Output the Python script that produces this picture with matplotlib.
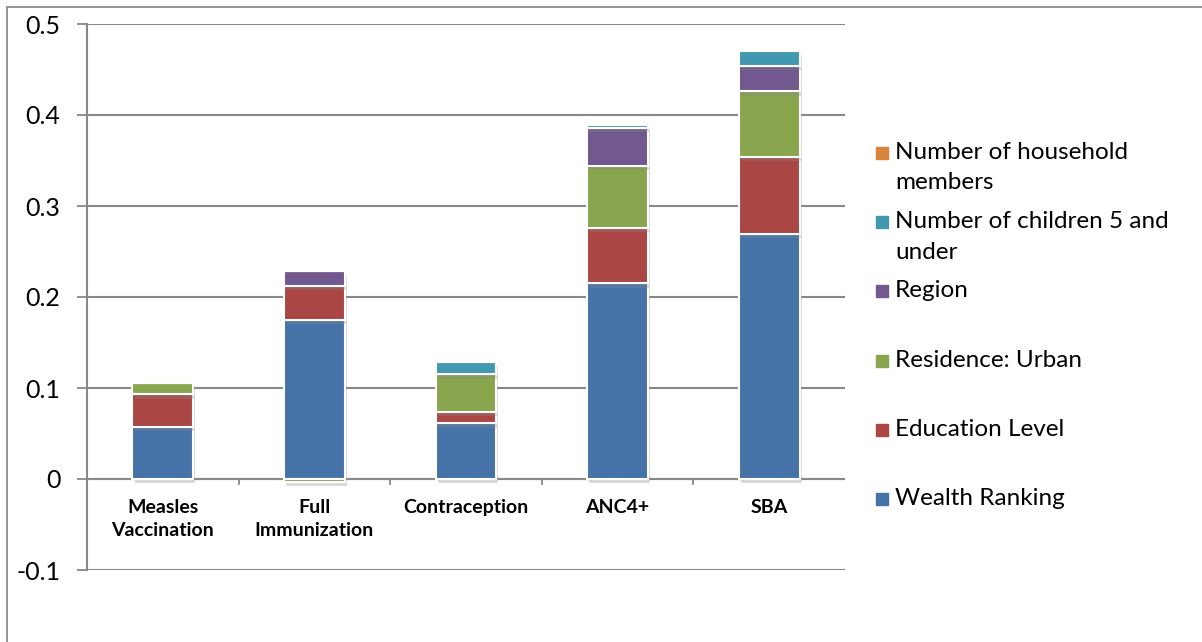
import matplotlib.pyplot as plt
import matplotlib.patheffects as pe
from matplotlib.patches import Rectangle
import numpy as np

plt.rcParams['font.family'] = ['Lato', 'DejaVu Sans']

categories = ["Measles\nVaccination", "Full\nImmunization", "Contraception", "ANC4+", "SBA"]

series_names = ["Wealth Ranking", "Education Level", "Residence: Urban", "Region",
                "Number of children 5 and\nunder", "Number of household\nmembers"]
wealth = [0.057, 0.175, 0.061, 0.215, 0.269]
education = [0.036, 0.037, 0.013, 0.061, 0.085]
residence = [0.012, -0.003, 0.041, 0.068, 0.072]
region = [0.0, 0.0165, 0.0, 0.042, 0.0275]
children = [0.0, 0.0, 0.0135, 0.003, 0.0165]
household = [0.0, 0.0, 0.0, 0.0, 0.0]

colors = ["#4572A7", "#AA4643", "#89A54E", "#71588F", "#4198AF", "#DB843D"]

fig = plt.figure(figsize=(12.02, 6.42), dpi=100)
ax = fig.add_axes([87/1202, 1-570/642, 758/1202, 546/642])

# outer chart frame
fig.patches.append(Rectangle((7/1202, -0.01), 1.2, 1-7/642+0.01, transform=fig.transFigure,
                             fill=False, edgecolor="#8c8c8c", linewidth=1.3))

x = np.arange(len(categories))
pos_base = np.zeros(len(categories))
neg_base = np.zeros(len(categories))
shadow = [pe.SimplePatchShadow(offset=(1.5, -3), shadow_rgbFace="#888888", alpha=0.3), pe.Normal()]
for vals, c in zip([wealth, education, residence, region, children, household], colors):
    vals = np.array(vals)
    bottom = np.where(vals >= 0, pos_base, neg_base)
    ax.bar(x, vals, 0.4, bottom=bottom, color=c, edgecolor="white", linewidth=1.5,
           zorder=3, path_effects=shadow)
    pos_base += np.where(vals >= 0, vals, 0)
    neg_base += np.where(vals < 0, vals, 0)

ax.set_xlim(-0.5, len(categories) - 0.5)
ax.set_ylim(-0.1, 0.5)
ax.set_yticks([-0.1, 0, 0.1, 0.2, 0.3, 0.4, 0.5])
ax.set_yticklabels(["-0.1", "0", "0.1", "0.2", "0.3", "0.4", "0.5"], fontsize=18)
ax.yaxis.grid(True, color="#888888", linewidth=1.5, zorder=0)
ax.tick_params(axis="y", length=7, width=1.3, color="#888888", pad=12)

for s in ["top", "right", "bottom"]:
    ax.spines[s].set_visible(False)
ax.spines["left"].set_color("#888888")
ax.spines["left"].set_linewidth(1.5)

# category axis runs along zero, with ticks between groups
ax.set_xticks([])
ax.axhline(0, color="#888888", linewidth=1.5, zorder=2)
for b in np.arange(0.5, len(categories) - 0.5):
    ax.plot([b, b], [0, -0.006], color="#888888", linewidth=1.3, zorder=2)
for xi, lab in zip(x, categories):
    ax.text(xi, -0.022, lab, ha="center", va="top", fontsize=14, fontweight="bold",
            linespacing=1.45)

# legend, top entry = last series
for i, (name, c) in enumerate(zip(series_names[::-1], colors[::-1])):
    yy = 1 - (153 + 69.2 * i) / 642
    fig.patches.append(Rectangle((876/1202, yy - 6/642), 12/1202, 12/642,
                                 transform=fig.transFigure, color=c))
    fig.text(895/1202, yy + 11/642, name, ha="left", va="top", fontsize=17.5,
             linespacing=1.55)

fig.savefig("out.png", dpi=100)
